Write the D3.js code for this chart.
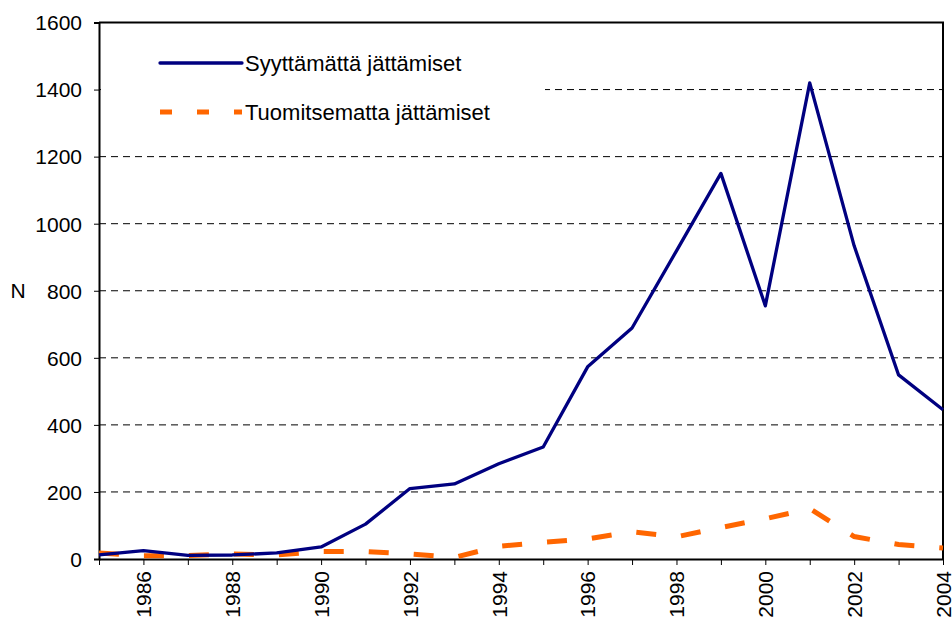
<!DOCTYPE html>
<html lang="fi">
<head>
    <meta charset="UTF-8">
    <title>Syyttämättä ja tuomitsematta jättämiset</title>
    <script src="https://d3js.org/d3.v7.min.js"></script>
    <style>
        body { margin: 0; background: #fff; }
        text { font-family: "Liberation Sans", Arial, sans-serif; fill: #000; }
    </style>
</head>
<body>
    <svg id="chart" width="952" height="624"></svg>
    <script>
        // data
        const years = d3.range(1985, 2005);
        const syyttamatta = [12, 25, 11, 12, 18, 36, 104, 210, 224, 284, 334, 573, 689, 919, 1150, 755, 1420, 934, 549, 445];
        const tuomitsematta = [18, 10, 10, 15, 12, 22, 22, 15, 5, 38, 50, 60, 81, 66, 94, 120, 150, 67, 43, 33];
        const yTicks = [0, 200, 400, 600, 800, 1000, 1200, 1400, 1600];
        const xLabelYears = years.filter(y => y % 2 === 0);
        const seriesNames = ["Syyttämättä jättämiset", "Tuomitsematta jättämiset"];

        const width = 952, height = 624;
        const margin = {left: 99, right: 9, top: 22.5, bottom: 65};
        const svg = d3.select("#chart");

        const x = d3.scaleLinear()
            .domain([1985, 2004])
            .range([margin.left, width - margin.right]);
        const y = d3.scaleLinear()
            .domain([0, 1600])
            .range([height - margin.bottom, margin.top]);

        // horizontal dashed grid
        svg.append("g")
            .selectAll("line")
            .data(yTicks.filter(t => t > 0 && t < 1600))
            .join("line")
            .attr("x1", margin.left)
            .attr("x2", width - margin.right)
            .attr("y1", d => y(d))
            .attr("y2", d => y(d))
            .attr("stroke", "#000")
            .attr("stroke-width", 1)
            .attr("stroke-dasharray", "7,5");

        // plot border (top and right)
        svg.append("path")
            .attr("d", `M${margin.left},${y(1600)} H${x(2004)} V${y(0)}`)
            .attr("fill", "none")
            .attr("stroke", "#000")
            .attr("stroke-width", 2);

        // legend background hides the grid behind it
        svg.append("rect")
            .attr("x", margin.left + 2)
            .attr("y", 40)
            .attr("width", 444)
            .attr("height", 92)
            .attr("fill", "#fff");

        // y axis
        const yAxis = svg.append("g")
            .attr("transform", `translate(${margin.left},0)`)
            .call(d3.axisLeft(y).tickValues(yTicks).tickSize(5).tickPadding(12).tickFormat(d3.format("d")));
        yAxis.select(".domain").attr("stroke-width", 2);
        yAxis.selectAll("text")
            .style("font-size", "21px")
            .style("font-family", "'Liberation Sans', Arial, sans-serif")
            .attr("dy", "0.35em");

        // x axis, tick every year, label every other year
        const xAxis = svg.append("g")
            .attr("transform", `translate(0,${y(0)})`)
            .call(d3.axisBottom(x).tickValues(years).tickSize(6).tickSizeOuter(0)
                .tickFormat(d => xLabelYears.includes(d) ? String(d) : ""));
        xAxis.select(".domain").attr("stroke-width", 2);
        xAxis.selectAll("text")
            .style("font-size", "21px")
            .style("font-family", "'Liberation Sans', Arial, sans-serif")
            .attr("transform", "rotate(-90)")
            .attr("text-anchor", "end")
            .attr("x", -12)
            .attr("y", 0)
            .attr("dy", "0.35em");

        // y axis title
        svg.append("text")
            .attr("x", 18)
            .attr("y", y(800) + 7)
            .attr("text-anchor", "middle")
            .style("font-size", "21px")
            .text("N");

        const line = d3.line()
            .x((d, i) => x(years[i]))
            .y(d => y(d));

        svg.append("path")
            .datum(tuomitsematta)
            .attr("d", line)
            .attr("fill", "none")
            .attr("stroke", "#FF6600")
            .attr("stroke-width", 5)
            .attr("stroke-dasharray", "20,25");

        svg.append("path")
            .datum(syyttamatta)
            .attr("d", line)
            .attr("fill", "none")
            .attr("stroke", "#000080")
            .attr("stroke-width", 3.3)
            .attr("stroke-linejoin", "round");

        // legend
        const legend = svg.append("g");
        const legendRows = [
            {name: seriesNames[0], color: "#000080", w: 3.3, dash: null, ly: 63},
            {name: seriesNames[1], color: "#FF6600", w: 5, dash: "12,25", ly: 112}
        ];
        legendRows.forEach(r => {
            legend.append("line")
                .attr("x1", 160).attr("x2", 242)
                .attr("y1", r.ly).attr("y2", r.ly)
                .attr("stroke", r.color)
                .attr("stroke-width", r.w)
                .attr("stroke-linecap", r.dash ? "butt" : "round")
                .attr("stroke-dasharray", r.dash);
            legend.append("text")
                .attr("x", 245)
                .attr("y", r.ly + 7.5)
                .style("font-size", "22px")
                .text(r.name);
        });
    </script>
</body>
</html>
